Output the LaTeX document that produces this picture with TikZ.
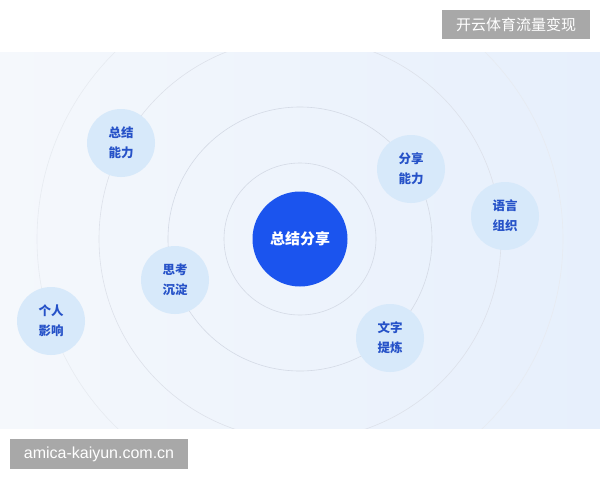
\documentclass[tikz,border=0pt]{standalone}
\usepackage{fontspec}
\setmainfont{Noto Sans CJK SC}
\newfontfamily\latinfont{Liberation Sans}
\usepackage{tikz}
\usetikzlibrary{positioning}
\definecolor{blue1}{RGB}{27, 84, 238}
\definecolor{bubble1}{RGB}{215, 233, 250}
\definecolor{label1}{RGB}{38, 82, 200}
\definecolor{ring1}{RGB}{212, 218, 229}
\definecolor{panelL}{RGB}{245, 248, 252}
\definecolor{panelR}{RGB}{230, 239, 252}
\definecolor{mark1}{RGB}{168, 168, 168}

\begin{document}
\begin{tikzpicture}[x=1pt, y=-1pt,
  bubble/.style={circle, fill=bubble1, minimum size=68pt, inner sep=0pt,
    align=center, text=label1, font=\fontsize{12.5}{20}\selectfont\bfseries},
  ringline/.style={draw=ring1, line width=0.6pt},
  markbox/.style={fill=mark1, text=white, inner sep=0pt}]
  \useasboundingbox (0,0) rectangle (600,480);

  % Background panel
  \shade[left color=panelL, right color=panelR] (0,52) rectangle (600,428);

  % Rings round the hub
  \coordinate (hub) at (300,239);
  \begin{scope}
    \clip (0,52) rectangle (600,428);
    \draw[ringline] (hub) circle [radius=76pt];
    \draw[ringline] (hub) circle [radius=132pt];
    \draw[ringline, draw=ring1!80] (hub) circle [radius=201pt];
    \draw[ringline, draw=ring1!55] (hub) circle [radius=263pt];
  \end{scope}

  % Core node
  \node[circle, fill=blue1, minimum size=95pt, inner sep=0pt, text=white,
    font=\fontsize{15}{18}\selectfont\bfseries] (core) at (hub) {总结分享};

  % Skill bubbles
  \node[bubble] (summary) at (121,143) {总结\\能力};
  \node[bubble] (think)   at (175,280) {思考\\沉淀};
  \node[bubble] (impact)  at (51,321)  {个人\\影响};
  \node[bubble] (share)   at (411,169) {分享\\能力};
  \node[bubble] (speech)  at (505,216) {语言\\组织};
  \node[bubble] (refine)  at (390,338) {文字\\提炼};

  % Watermarks
  \node[markbox, minimum width=148pt, minimum height=29pt,
    font=\fontsize{15}{18}\selectfont] (topmark) at (516,24.5) {开云体育流量变现};
  \node[markbox, minimum width=178pt, minimum height=30pt,
    font=\latinfont\fontsize{16}{19}\selectfont] (webmark) at (99,454) {amica-kaiyun.com.cn};
\end{tikzpicture}
\end{document}
